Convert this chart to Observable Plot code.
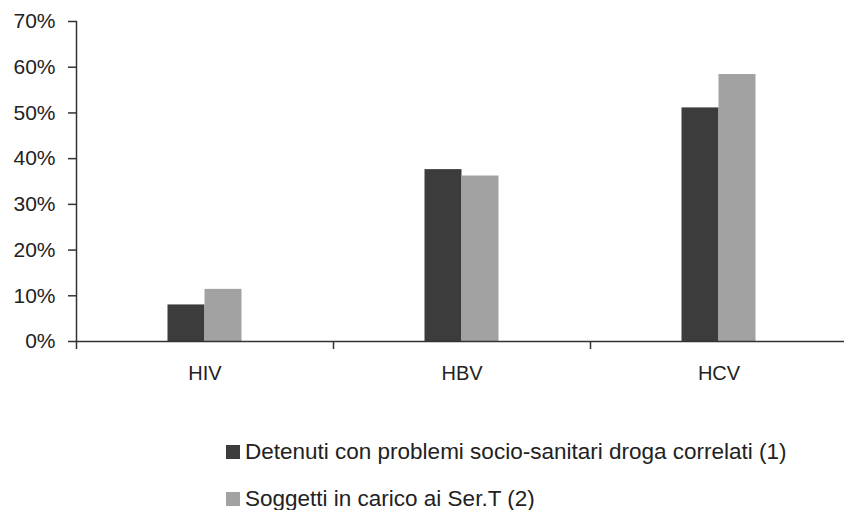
<!DOCTYPE html>
<html>
<head>
<meta charset="utf-8">
<script src="https://cdn.jsdelivr.net/npm/d3@7"></script>
<script src="https://cdn.jsdelivr.net/npm/@observablehq/plot@0.6"></script>
<style>
  html, body { margin: 0; padding: 0; background: #fff; }
  #wrap { position: relative; width: 844px; height: 510px; overflow: hidden; font-family: "Liberation Sans", Arial, sans-serif; color: #222; }
  #chart svg { display: block; }
  .leg { position: absolute; left: 226px; display: flex; align-items: center; font-size: 22.5px; line-height: 1; white-space: nowrap; }
  .sw { width: 14px; height: 14px; margin-right: 5px; flex: none; }
</style>
</head>
<body>
<div id="wrap">
  <div id="chart"></div>
  <div id="legend"></div>
</div>
<script>
const categories = ["HIV", "HBV", "HCV"];
const seriesNames = ["Detenuti con problemi socio-sanitari droga correlati (1)", "Soggetti in carico ai Ser.T (2)"];
const detenuti = [8.0, 37.6, 51.1];
const sert = [11.4, 36.2, 58.4];
const yTicks = [0, 10, 20, 30, 40, 50, 60, 70];
const colors = ["#3c3c3c", "#a2a2a2"];

const rows0 = categories.map((c, i) => ({cat: c, value: detenuti[i]}));
const rows1 = categories.map((c, i) => ({cat: c, value: sert[i]}));

const W = 844, H = 400, left = 76, right = 847;
const bw = (right - left) / categories.length;
const half = bw / 2;
const barW = 37;

const chart = Plot.plot({
  width: W,
  height: H,
  marginTop: 21,
  marginBottom: H - 341,
  marginLeft: left,
  marginRight: 0,
  style: {fontFamily: "'Liberation Sans', Arial, sans-serif", color: "#222", background: "#fff"},
  x: {type: "band", domain: categories, range: [left, right], padding: 0, label: null},
  y: {domain: [0, 70], range: [341, 21], label: null},
  marks: [
    Plot.barY(rows0, {x: "cat", y: "value", fill: colors[0], insetLeft: half - barW, insetRight: half}),
    Plot.barY(rows1, {x: "cat", y: "value", fill: colors[1], insetLeft: half, insetRight: half - barW}),
    Plot.axisY({ticks: yTicks, tickFormat: d => d + "%", tickSize: 8, tickPadding: 13, fontSize: 21, stroke: "#333", strokeWidth: 1.5, label: null}),
    Plot.frame({anchor: "left", stroke: "#333", strokeWidth: 1.5}),
    Plot.axisX({tickSize: 8, dx: -half, text: null, stroke: "#333", strokeWidth: 1.5, label: null}),
    Plot.axisX({tickSize: 0, tickPadding: 24, fontSize: 20, label: null}),
    Plot.ruleY([0], {stroke: "#333", strokeWidth: 1.5})
  ]
});
document.getElementById("chart").appendChild(chart);

const legend = document.getElementById("legend");
const tops = [452, 499];
seriesNames.forEach((name, i) => {
  const d = document.createElement("div");
  d.className = "leg";
  d.style.top = (tops[i] - 10) + "px";
  d.style.height = "20px";
  const sw = document.createElement("span");
  sw.className = "sw";
  sw.style.background = colors[i];
  const t = document.createElement("span");
  t.textContent = name;
  d.appendChild(sw);
  d.appendChild(t);
  legend.appendChild(d);
});
</script>
</body>
</html>
